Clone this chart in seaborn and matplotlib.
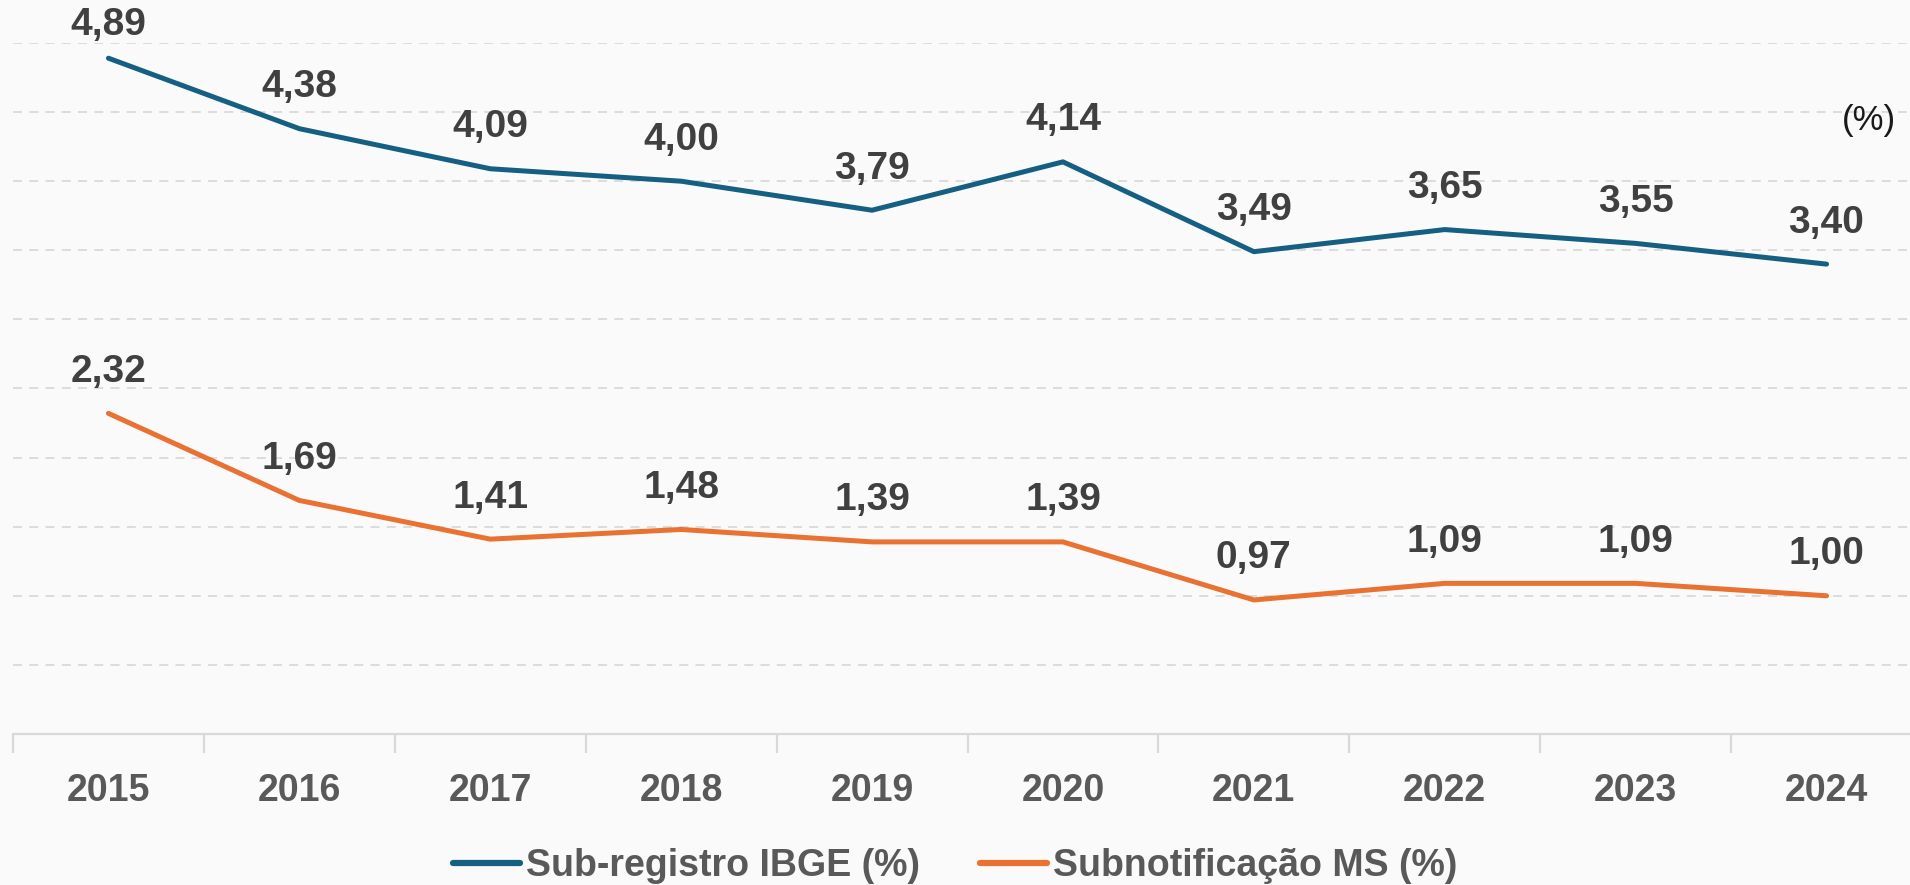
import matplotlib
matplotlib.use("Agg")
import matplotlib.pyplot as plt
import seaborn as sns
import pandas as pd

# --- Data ---
years = ["2015", "2016", "2017", "2018", "2019", "2020", "2021", "2022", "2023", "2024"]
ibge = [4.89, 4.38, 4.09, 4.00, 3.79, 4.14, 3.49, 3.65, 3.55, 3.40]
ms = [2.32, 1.69, 1.41, 1.48, 1.39, 1.39, 0.97, 1.09, 1.09, 1.00]
series_names = ["Sub-registro IBGE (%)", "Subnotificação MS (%)"]
colors = ["#156082", "#E97132"]

df = pd.DataFrame({
    "ano": list(range(len(years))) * 2,
    "valor": ibge + ms,
    "serie": [series_names[0]] * len(years) + [series_names[1]] * len(years),
})

sns.set_theme(style="white")
plt.rcParams["font.family"] = ["Liberation Sans", "DejaVu Sans"]
bg = "#fafafa"

fig = plt.figure(figsize=(19.10, 8.85), dpi=100, facecolor=bg)
# axes run slightly past the right edge, as in the original
ax = fig.add_axes([13 / 1910, 1 - 734 / 885, 1909 / 1910, (734 - 43) / 885])
ax.set_facecolor(bg)

sns.lineplot(data=df, x="ano", y="valor", hue="serie", palette=colors,
             linewidth=3.6, ax=ax, legend=False)

ax.set_xlim(-0.5, len(years) - 0.5)
ax.set_ylim(0, 5)

# gridlines
ax.set_yticks([0.5 * i for i in range(1, 11)])
ax.yaxis.grid(True, color="#d9d9d9", linestyle=(0, (5, 4)), linewidth=1.3)
ax.set_yticklabels([])
ax.tick_params(axis="y", length=0)

# x axis
ax.set_xticks(range(len(years)))
ax.set_xticklabels(years, fontsize=27, fontweight="bold", color="#595959")
ax.set_xticks([i - 0.5 for i in range(len(years) + 1)], minor=True)
ax.tick_params(axis="x", which="major", bottom=False, length=0, pad=28)
ax.tick_params(axis="x", which="minor", bottom=True, length=14, width=1.6, color="#d9d9d9")
ax.set_xlabel("")
ax.set_ylabel("")

for side in ["top", "right", "left"]:
    ax.spines[side].set_visible(False)
ax.spines["bottom"].set_color("#d9d9d9")
ax.spines["bottom"].set_linewidth(1.6)

# data labels
for vals in (ibge, ms):
    for i, v in enumerate(vals):
        ax.text(i, min(v + 0.30, 5.13), f"{v:.2f}".replace(".", ","),
                ha="center", va="center", fontsize=28, fontweight="bold",
                color="#404040", clip_on=False)

ax.text(0.972, 0.888, "(%)", transform=ax.transAxes, ha="center", va="center",
        fontsize=25, color="#1a1a1a")

# legend
handles = [plt.Line2D([], [], color=c, linewidth=4.5, solid_capstyle="round") for c in colors]
leg = fig.legend(handles, series_names, loc="center", bbox_to_anchor=(0.5, 1 - 866 / 885),
                 ncol=2, frameon=False, handlelength=1.8, handletextpad=0.15,
                 columnspacing=1.6,
                 prop={"family": ["Liberation Sans Narrow", "Liberation Sans"],
                       "weight": "bold", "size": 27})
for t in leg.get_texts():
    t.set_color("#595959")

fig.savefig("out.png", dpi=100, facecolor=bg)
